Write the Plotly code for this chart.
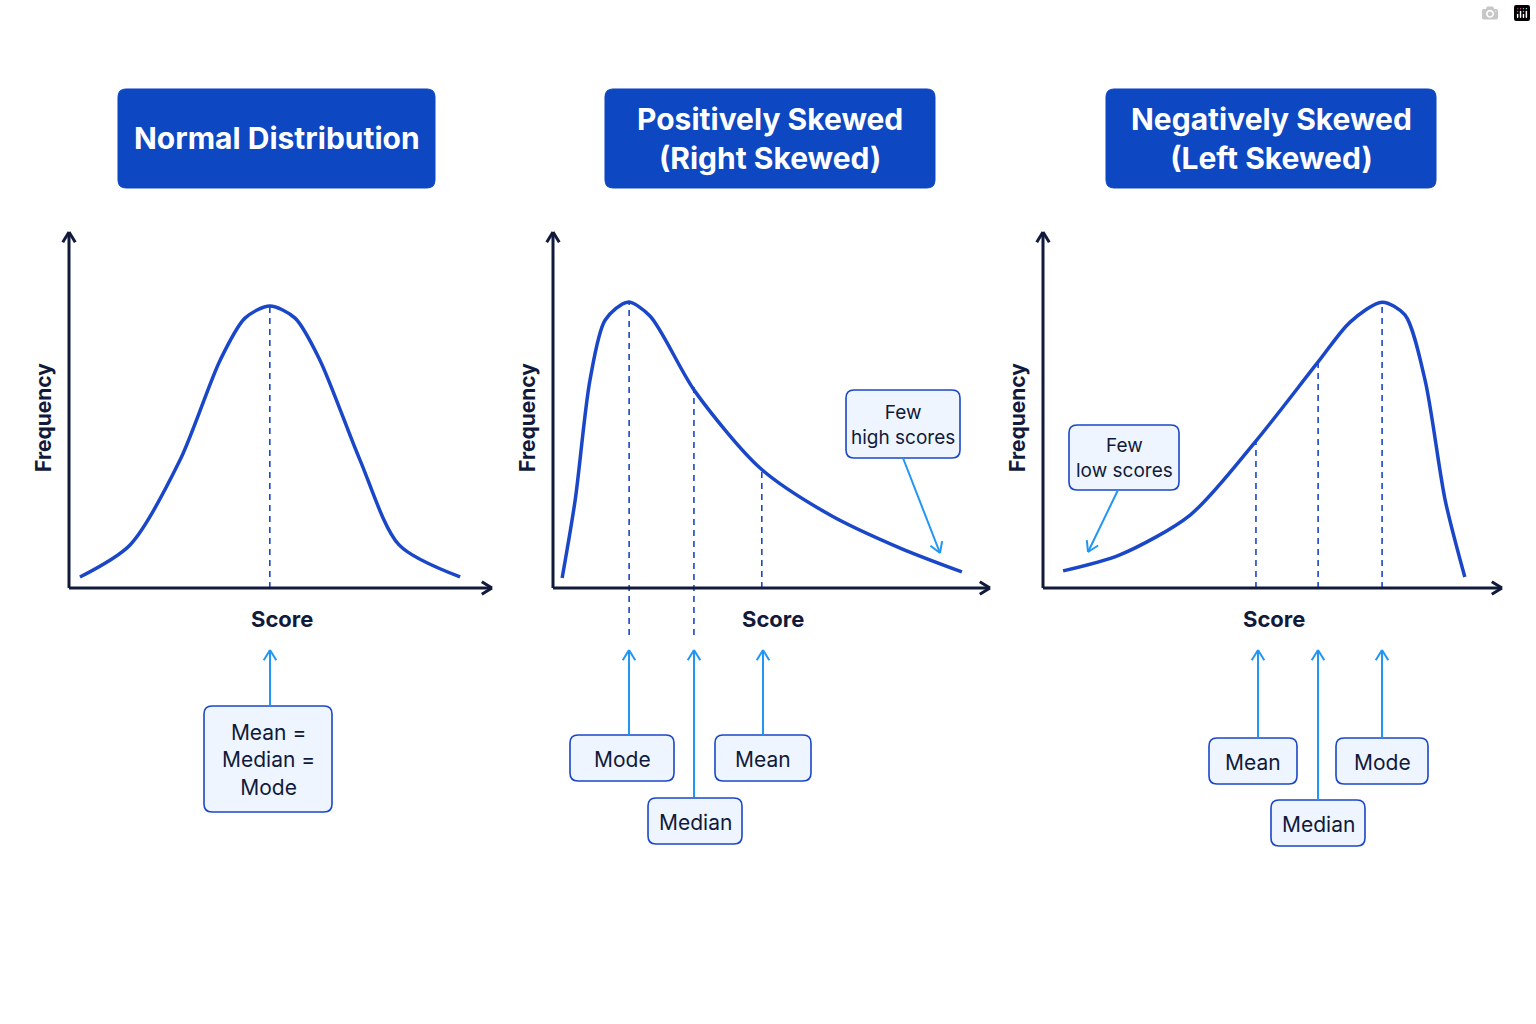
import math
import plotly.graph_objects as go

W, H = 1536, 1024

# curve samples (score units 0-10, frequency units 0-10)
normal_x = [0.26, 1.45, 2.64, 3.59, 4.18, 4.77, 5.37, 5.96, 6.91, 7.84, 9.29]
normal_y = [0.31, 1.21, 3.6, 6.4, 7.58, 7.92, 7.58, 6.4, 3.6, 1.21, 0.31]
pos_x = [0.21, 0.51, 0.85, 1.2, 1.72, 2.23, 3.26, 4.76, 6.37, 7.98, 9.4]
pos_y = [0.28, 2.47, 5.84, 7.53, 8.03, 7.64, 5.53, 3.37, 2.05, 1.12, 0.45]
neg_x = [0.44, 1.68, 3.22, 4.64, 6.02, 6.72, 7.42, 7.92, 8.36, 8.8, 9.23]
neg_y = [0.48, 0.93, 2.05, 4.1, 6.35, 7.47, 8.03, 7.67, 5.84, 2.47, 0.31]

# dashed markers: x, top, bottom
normal_marks = [(4.77, 7.92, 0)]
pos_marks = [(1.75, 8.03, -1.32), (3.24, 5.7, -1.32), (4.8, 3.31, 0)]
neg_marks = [(4.66, 4.1, 0), (6.02, 6.35, 0), (7.42, 8.03, 0)]

titles = ["Normal Distribution", "Positively Skewed<br>(Right Skewed)", "Negatively Skewed<br>(Left Skewed)"]

BLUE = "#1A47C8"
NAVY = "#111A3A"
LIGHT = "#2196F3"
TITLE_BG = "#0D47C1"

# panel frames in pixels: origin x, width
panels = [(69, 421), (553, 435), (1043, 457)]
BASE, TOP, LOW = 588, 232, 640
YU = 35.6


def P(px, py):
    return px / W, 1 - py / H


fig = go.Figure()
shapes, annos = [], []

curves = [(normal_x, normal_y, normal_marks), (pos_x, pos_y, pos_marks), (neg_x, neg_y, neg_marks)]
for i, ((ox, w), (cx, cy, marks)) in enumerate(zip(panels, curves)):
    n = "" if i == 0 else str(i + 1)
    fig.add_trace(go.Scatter(x=cx, y=cy, mode="lines",
                             line=dict(color=BLUE, width=3.5, shape="spline", smoothing=0.8),
                             xaxis="x" + n, yaxis="y" + n, showlegend=False, hoverinfo="skip"))
    for mx, top, bot in marks:
        fig.add_trace(go.Scatter(x=[mx, mx], y=[bot, top], mode="lines",
                                 line=dict(color=BLUE, width=1.6, dash="6px,5px"),
                                 xaxis="x" + n, yaxis="y" + n, showlegend=False, hoverinfo="skip"))
    xd = [ox / W, (ox + w) / W]
    yd = [1 - LOW / H, 1 - TOP / H]
    ax = dict(domain=xd, range=[0, 10], visible=False, fixedrange=True)
    ay = dict(domain=yd, range=[(BASE - LOW) / YU, (BASE - TOP) / YU], visible=False, fixedrange=True)
    fig.update_layout(**{"xaxis" + n: ax, "yaxis" + n: ay})
    if i:
        fig.layout["xaxis" + n].anchor = "y" + n
        fig.layout["yaxis" + n].anchor = "x" + n


def line(x0, y0, x1, y1, color, width):
    a, b = P(x0, y0)
    c, d = P(x1, y1)
    shapes.append(dict(type="line", xref="paper", yref="paper", x0=a, y0=b, x1=c, y1=d,
                       line=dict(color=color, width=width)))


def arrow(x0, y0, x1, y1, color, width, head=12):
    line(x0, y0, x1, y1, color, width)
    ang = math.atan2(y1 - y0, x1 - x0)
    for s in (1, -1):
        t = ang + math.pi + s * 0.55
        line(x1, y1, x1 + head * math.cos(t), y1 + head * math.sin(t), color, width)


def rrect(x0, y0, x1, y1, r, fill, border, bw):
    pts = [P(x0 + r, y0), P(x1 - r, y0), P(x1, y0), P(x1, y0 + r), P(x1, y1 - r), P(x1, y1),
           P(x1 - r, y1), P(x0 + r, y1), P(x0, y1), P(x0, y1 - r), P(x0, y0 + r), P(x0, y0)]
    f = lambda p: f"{p[0]:.5f},{p[1]:.5f}"
    path = (f"M{f(pts[0])} L{f(pts[1])} Q{f(pts[2])} {f(pts[3])} L{f(pts[4])} Q{f(pts[5])} {f(pts[6])} "
            f"L{f(pts[7])} Q{f(pts[8])} {f(pts[9])} L{f(pts[10])} Q{f(pts[11])} {f(pts[0])} Z")
    shapes.append(dict(type="path", xref="paper", yref="paper", path=path, fillcolor=fill,
                       line=dict(color=border, width=bw), layer="below"))


def text(px, py, s, size, color, bold=False, angle=0):
    x, y = P(px, py)
    annos.append(dict(x=x, y=y, xref="paper", yref="paper", text=f"<b>{s}</b>" if bold else s,
                      xanchor="center", yanchor="middle", showarrow=False, textangle=angle,
                      font=dict(size=size, color=color, family="Inter")))


# axes
for ox, w in panels:
    arrow(ox, BASE, ox, TOP, NAVY, 3)
    arrow(ox, BASE, ox + w + 2, BASE, NAVY, 3)
    text(ox - 26, 418, "Frequency", 21, NAVY, True, -90)
    text(ox + w / 2 + 2, 619, "Score", 22, NAVY, True)

# title boxes
for (x0, x1), t in zip([(118, 435), (605, 935), (1106, 1436)], titles):
    rrect(x0, 89, x1, 188, 8, TITLE_BG, TITLE_BG, 1)
    text((x0 + x1) / 2, 138, t, 30, "white", True)

# label boxes: center x, center y, width, height, text, arrow x, arrow start y
labels = [
    (268, 759, 128, 106, "Mean =<br>Median =<br>Mode", 270, 706),
    (622, 758, 104, 46, "Mode", 629, 735),
    (695, 821, 94, 46, "Median", 694, 797),
    (763, 758, 96, 46, "Mean", 763, 735),
    (1253, 761, 88, 46, "Mean", 1258, 738),
    (1318, 823, 94, 46, "Median", 1318, 800),
    (1382, 761, 92, 46, "Mode", 1382, 738),
]
for cx, cy, bw, bh, s, axp, ay0 in labels:
    arrow(axp, ay0, axp, 650, LIGHT, 2)
for cx, cy, bw, bh, s, axp, ay0 in labels:
    rrect(cx - bw / 2, cy - bh / 2, cx + bw / 2, cy + bh / 2, 8, "#EEF5FF", BLUE, 1.6)
    text(cx, cy + 1, s, 21, NAVY)

# tail callouts
arrow(903, 458, 940, 553, LIGHT, 2)
rrect(846, 390, 960, 458, 8, "#EEF5FF", BLUE, 1.6)
text(903, 425, "Few<br>high scores", 19, NAVY)
arrow(1118, 490, 1088, 552, LIGHT, 2)
rrect(1069, 425, 1179, 490, 8, "#EEF5FF", BLUE, 1.6)
text(1124, 458, "Few<br>low scores", 19, NAVY)

fig.update_layout(width=W, height=H, margin=dict(l=0, r=0, t=0, b=0), paper_bgcolor="white",
                  plot_bgcolor="rgba(0,0,0,0)", shapes=shapes, annotations=annos, showlegend=False)
fig.write_html("out.html", post_script="document.body.style.margin='0';")
